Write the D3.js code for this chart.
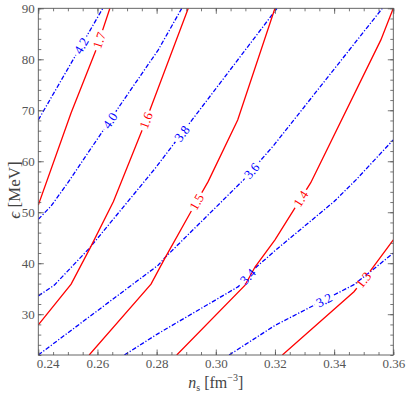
<!DOCTYPE html>
<html><head><meta charset="utf-8">
<script src="https://cdn.jsdelivr.net/npm/d3@7"></script>
<style>body{margin:0;background:#fff}svg{display:block}
text{font-family:"Liberation Serif","DejaVu Serif",serif;}
</style>
</head><body><svg id="c" width="409" height="394"></svg>
<script>
// ---- data ----
const xDomain = [0.24, 0.36];
const yDomain = [22, 90];
const xTicks = [0.24, 0.26, 0.28, 0.30, 0.32, 0.34, 0.36];
const xTickLabels = ["0.24", "0.26", "0.28", "0.30", "0.32", "0.34", "0.36"];
const yTicks = [30, 40, 50, 60, 70, 80, 90];
const yTickLabels = ["30", "40", "50", "60", "70", "80", "90"];

// red solid contours
const red13 = [[0.3225,22],[0.3467,34.4],[0.3515,37.9],[0.36,44.6]];
const red14 = [[0.2868,22],[0.3099,35.7],[0.3133,39.3],[0.3200,44.6],[0.3264,50.5],[0.3321,55.8],[0.3558,83.8],[0.36,90]];
const red15 = [[0.2572,22],[0.2781,35.9],[0.2828,41.0],[0.2913,49.8],[0.2974,56.0],[0.3074,68.1],[0.32,90]];
const red16 = [[0.24,27.9],[0.2511,35.9],[0.2578,43.3],[0.2654,52.1],[0.2764,68.0],[0.2907,90]];
const red17 = [[0.24,51.4],[0.2511,69.5],[0.2595,81.8],[0.2642,90]];
const redLevels = ["1.3","1.4","1.5","1.6","1.7"];
const redLines = [red13, red14, red15, red16, red17];
const redLabelX = [0.3499, 0.3287, 0.2935, 0.2764, 0.2606];

// blue dash-dot contours
const blue32 = [[0.3045,22],[0.3200,27.8],[0.3467,35.8],[0.3524,38.4],[0.36,42.0]];
const blue34 = [[0.2691,22],[0.2805,26.2],[0.3076,35.4],[0.3138,39.3],[0.3207,42.8],[0.34,52.1],[0.3473,56.3],[0.36,64.2]];
const blue36 = [[0.24,22],[0.2805,39.6],[0.2828,41.1],[0.3093,56.3],[0.3197,63.2],[0.3563,90]];
const blue38 = [[0.24,33.6],[0.2454,35.7],[0.2572,42.9],[0.2795,58.6],[0.3207,90]];
const blue40 = [[0.24,48.6],[0.2443,51.2],[0.25,55.8],[0.2685,71.7],[0.2805,81.8],[0.2885,90]];
const blue42 = [[0.24,68.1],[0.2618,90]];
const blueLevels = ["3.2","3.4","3.6","3.8","4.0","4.2"];
const blueLines = [blue32, blue34, blue36, blue38, blue40, blue42];
const blueLabelX = [0.3366, 0.3108, 0.3121, 0.2885, 0.2642, 0.2545];

// ---- drawing ----
const W = 409, H = 394;
const L = 38.3, R = 393.3, T = 8.3, B = 355;
const AX = "#555";

const svg = d3.select("#c");
const x = d3.scaleLinear().domain(xDomain).range([L, R]);
const y = d3.scaleLinear().domain(yDomain).range([B, T]);

const defs = svg.append("defs");
defs.append("clipPath").attr("id","clip").append("rect")
  .attr("x", L).attr("y", T).attr("width", R-L).attr("height", B-T);

function interp(line, xv) {
  for (let i = 0; i < line.length - 1; i++) {
    const a = line[i], b = line[i+1];
    if (xv >= a[0] && xv <= b[0]) {
      const t = (xv - a[0]) / (b[0] - a[0]);
      return a[1] + t * (b[1] - a[1]);
    }
  }
  return xv < line[0][0] ? line[0][1] : line[line.length-1][1];
}

const lineGen = d3.line().x(d => x(d[0])).y(d => y(d[1]));
const plot = svg.append("g").attr("clip-path","url(#clip)");
const labelG = svg.append("g");

function drawContours(lines, levels, labelXs, color, dash, key) {
  lines.forEach((ln, i) => {
    const lx = labelXs[i];
    const px = x(lx), py = y(interp(ln, lx));
    const d0 = 0.003;
    const p1 = [x(lx - d0), y(interp(ln, lx - d0))];
    const p2 = [x(lx + d0), y(interp(ln, lx + d0))];
    const ang = Math.atan2(p2[1]-p1[1], p2[0]-p1[0]) * 180 / Math.PI;
    const txt = labelG.append("text")
      .attr("transform", `translate(${px},${py}) rotate(${ang})`)
      .attr("text-anchor","middle").attr("dy","0.35em")
      .style("font-size", "13px")
      .attr("fill", color).text(levels[i]);
    const tw = txt.node().getComputedTextLength();
    const m = defs.append("mask").attr("id", `m-${key}-${i}`)
      .attr("maskUnits","userSpaceOnUse").attr("x",0).attr("y",0).attr("width",W).attr("height",H);
    m.append("rect").attr("x",0).attr("y",0).attr("width",W).attr("height",H).attr("fill","#fff");
    m.append("rect").attr("x",-tw/2-2.5).attr("y",-6).attr("width",tw+5).attr("height",12)
      .attr("transform", `translate(${px},${py}) rotate(${ang})`).attr("fill","#000");
    plot.append("path").datum(ln).attr("d", lineGen)
      .attr("fill","none").attr("stroke", color).attr("stroke-width", 1.3)
      .attr("stroke-dasharray", dash).attr("mask", `url(#m-${key}-${i})`);
  });
}
drawContours(blueLines, blueLevels, blueLabelX, "#0000ff", "4.5,1.8,1.2,1.8", "b");
drawContours(redLines, redLevels, redLabelX, "#ff0000", null, "r");

// axes with inward ticks
const xMinor = d3.range(0, 25).map(i => 0.24 + i*0.005);
const yMinor = d3.range(0, 35).map(i => 22 + i*2);
function styleAxis(g) {
  g.attr("font-family", null).attr("font-size", null);
  g.select(".domain").remove();
  g.selectAll(".tick line").attr("stroke", AX).attr("stroke-width", 0.8);
  g.selectAll("text").style("font-size", "13px").attr("fill", AX);
}
// minor
svg.append("g").attr("transform",`translate(0,${B})`).call(d3.axisBottom(x).tickValues(xMinor).tickSize(-3).tickFormat("")).call(styleAxis);
svg.append("g").attr("transform",`translate(0,${T})`).call(d3.axisTop(x).tickValues(xMinor).tickSize(-3).tickFormat("")).call(styleAxis);
svg.append("g").attr("transform",`translate(${L},0)`).call(d3.axisLeft(y).tickValues(yMinor).tickSize(-3).tickFormat("")).call(styleAxis);
svg.append("g").attr("transform",`translate(${R},0)`).call(d3.axisRight(y).tickValues(yMinor).tickSize(-3).tickFormat("")).call(styleAxis);
// major
const xb = svg.append("g").attr("transform",`translate(0,${B})`)
  .call(d3.axisBottom(x).tickValues(xTicks).tickSize(-5.5).tickPadding(4).tickFormat((d,i) => xTickLabels[i])).call(styleAxis);
xb.selectAll(".tick text").filter((d,i) => i === 0).attr("text-anchor","start").attr("x",-2);
svg.append("g").attr("transform",`translate(0,${T})`).call(d3.axisTop(x).tickValues(xTicks).tickSize(-5.5).tickFormat("")).call(styleAxis);
svg.append("g").attr("transform",`translate(${L},0)`)
  .call(d3.axisLeft(y).tickValues(yTicks).tickSize(-5.5).tickPadding(3.5).tickFormat((d,i) => yTickLabels[i])).call(styleAxis);
svg.append("g").attr("transform",`translate(${R},0)`).call(d3.axisRight(y).tickValues(yTicks).tickSize(-5.5).tickFormat("")).call(styleAxis);

// frame
svg.append("rect").attr("x",L).attr("y",T).attr("width",R-L).attr("height",B-T)
  .attr("fill","none").attr("stroke",AX).attr("stroke-width",0.9);

// axis titles
const xt = svg.append("text").attr("x",(L+R)/2).attr("y",388).attr("text-anchor","middle")
  .style("font-size","16px").attr("fill","#444");
xt.append("tspan").attr("font-style","italic").text("n");
xt.append("tspan").style("font-size","10px").attr("dy",3).text("s");
xt.append("tspan").attr("dy",-3).text(" [fm");
xt.append("tspan").style("font-size","10px").attr("dy",-7).text("−3");
xt.append("tspan").attr("dy",7).text("]");

const yt = svg.append("text").attr("transform",`translate(20,190) rotate(-90)`).attr("text-anchor","middle")
  .style("font-size","17px").attr("fill","#444");
yt.append("tspan").attr("font-style","italic").text("ϵ");
yt.append("tspan").text(" [MeV]");
</script></body></html>
